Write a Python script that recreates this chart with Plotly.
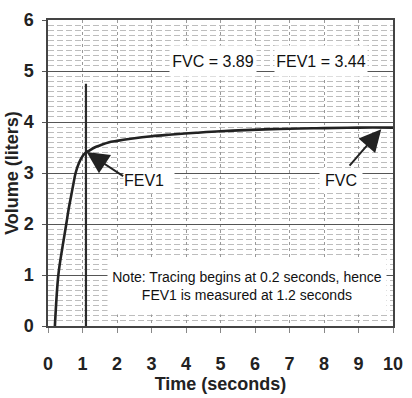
import plotly.graph_objects as go

# Volume-time tracing (seconds, liters)
time_s = [0.2, 0.3, 0.42, 0.53, 0.6, 0.67, 0.74, 0.8, 0.9, 1.0, 1.1, 1.2, 1.35, 1.5,
          1.75, 2.0, 2.4, 3.0, 3.5, 4.3, 5.0, 6.5, 8.0, 9.0, 10.0]
volume_l = [0.0, 1.0, 1.55, 2.0, 2.3, 2.55, 2.8, 3.0, 3.2, 3.33, 3.4, 3.44, 3.5, 3.54,
            3.6, 3.63, 3.67, 3.72, 3.75, 3.79, 3.82, 3.86, 3.88, 3.89, 3.89]
fev1_marker_x = [1.1, 1.1]
fev1_marker_y = [0.0, 4.75]
x_ticks = list(range(0, 11))
y_ticks = list(range(0, 7))

TICKFONT = "Liberation Sans, Arial, sans-serif"
TXTFONT = "Liberation Sans, Arial, sans-serif"

fig = go.Figure()
fig.add_trace(go.Scatter(x=fev1_marker_x, y=fev1_marker_y, mode="lines",
                         line=dict(color="#2a2a2a", width=2.2), hoverinfo="skip", showlegend=False))
fig.add_trace(go.Scatter(x=time_s, y=volume_l, mode="lines", line_shape="spline",
                         line=dict(color="#222", width=2.6), showlegend=False))

def box(text, x, y, w, h, size=16, align="center"):
    fig.add_annotation(x=x, y=y, xref="x", yref="y", text=text, showarrow=False,
                       bgcolor="white", width=w, height=h, borderpad=0, align=align,
                       font=dict(family=TXTFONT, size=size, color="#111"))

box("FVC = 3.89", 4.79, 5.2, 86, 30)
box("FEV1 = 3.44", 7.92, 5.2, 92, 30)
box("FEV1", 2.93, 2.86, 50, 22, align="left")
box("FVC", 8.48, 2.87, 42, 22)
box("Note: Tracing begins at 0.2 seconds, hence<br>FEV1 is measured at 1.2 seconds",
    5.76, 0.78, 278, 56, size=14)

def arrow(x, y, ax, ay):
    fig.add_annotation(x=x, y=y, xref="x", yref="y", ax=ax, ay=ay, text="",
                       showarrow=True, arrowhead=2, arrowsize=2.2, arrowwidth=2,
                       arrowcolor="#222")

arrow(1.12, 3.41, 38, 25)
arrow(9.66, 3.86, -33, 38)

fig.update_layout(
    width=412, height=398, margin=dict(l=48, r=9, t=20, b=70),
    paper_bgcolor="white", plot_bgcolor="white",
    xaxis=dict(range=[0, 10], tickvals=x_ticks, showgrid=True, gridcolor="#999",
               griddash="3px,3px", gridwidth=1, zeroline=False,
               showline=True, linecolor="#444", linewidth=1.5, mirror=True,
               ticks="outside", ticklen=5, tickcolor="#888", ticklabelstandoff=16,
               tickfont=dict(family=TICKFONT, size=18, color="#222", weight="bold"),
               title=dict(text="Time (seconds)", standoff=2,
                          font=dict(family=TICKFONT, size=18, color="#222", weight="bold"))),
    yaxis=dict(range=[0, 6], tickvals=y_ticks, showgrid=True, gridcolor="#555",
               gridwidth=1.3, zeroline=False,
               showline=True, linecolor="#444", linewidth=1.5, mirror=True,
               ticks="outside", ticklen=4, tickcolor="#555", ticklabelstandoff=5,
               minor=dict(dtick=0.1, showgrid=True, gridcolor="#bdbdbd",
                          griddash="6px,3px", gridwidth=1),
               tickfont=dict(family=TICKFONT, size=18, color="#222", weight="bold"),
               title=dict(text="Volume (liters)", standoff=0,
                          font=dict(family=TICKFONT, size=18, color="#222", weight="bold"))),
)

fig.write_html("out.html")
